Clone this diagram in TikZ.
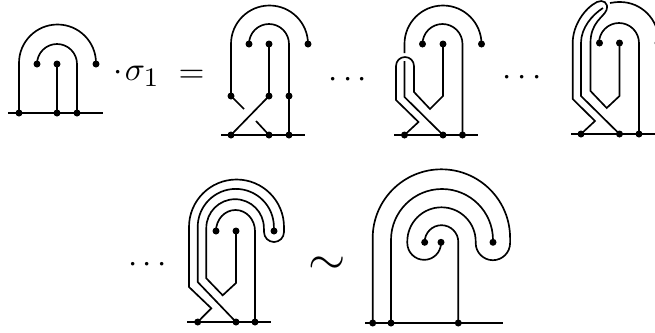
\documentclass[tikz,border=0pt]{standalone}
\usepackage{tikz}
\tikzset{
    % Marked points on the strands
    puncture/.style={circle, fill=black, inner sep=0pt, minimum size=2.1pt},
    % Strands of the curve diagram
    strand/.style={line width=0.5pt, line join=miter},
    % Horizontal boundary line
    base line/.style={line width=0.5pt}
}

\begin{document}
\begin{tikzpicture}[x=0.3pt, y=-0.3pt]
    \useasboundingbox (0,0) rectangle (655,332);

    % --- First diagram ---
    \node[puncture] (A1) at (19,113) {};
    \node[puncture] (A2) at (57,113) {};
    \node[puncture] (A3) at (77,113) {};
    \node[puncture] (A4) at (37,64) {};
    \node[puncture] (A5) at (57,64) {};
    \node[puncture] (A6) at (96,64) {};
    \coordinate (A7) at (8,113);
    \coordinate (A8) at (103,113);
    \draw[base line] (A7) -- (A8);
    \draw[strand] (A1.center) -- (19,63) arc[start angle=180, end angle=360, radius=38.5] -- (A6.center);
    \draw[strand] (A3.center) -- (77,64) arc[start angle=0, end angle=-180, radius=20] -- (A4.center);
    \draw[strand] (A2.center) -- (A5.center);

    % --- Labels, first row ---
    \node[anchor=base west, inner sep=0pt] (sigma) at (113,80) {$\cdot\mkern1mu\sigma_{\mbox{\footnotesize 1}}$};
    \node (equals) at (191.5,76) {$=$};
    \node (dots1) at (347.7,80) {$\cdots$};
    \node (dots2) at (522,77.7) {$\cdots$};

    % --- Second diagram ---
    \node[puncture] (B1) at (231,135) {};
    \node[puncture] (B2) at (269,135) {};
    \node[puncture] (B3) at (289,135) {};
    \node[puncture] (B4) at (231,96) {};
    \node[puncture] (B5) at (269,96) {};
    \node[puncture] (B6) at (289,96) {};
    \node[puncture] (B7) at (249,44) {};
    \node[puncture] (B8) at (269,44) {};
    \node[puncture] (B9) at (308,44) {};
    \coordinate (B10) at (221,135);
    \coordinate (B11) at (305,135);
    \coordinate (B12) at (244,109);
    \coordinate (B13) at (256,121);
    \draw[base line] (B10) -- (B11);
    \draw[strand] (B4.center) -- (231,44) arc[start angle=180, end angle=360, radius=38.5] -- (B9.center);
    \draw[strand] (B3.center) -- (289,44) arc[start angle=0, end angle=-180, radius=20] -- (B7.center);
    \draw[strand] (B8.center) -- (B5.center) -- (B1.center);
    \draw[strand] (B4.center) -- (B12);
    \draw[strand] (B13) -- (B2.center);

    % --- Third diagram ---
    \node[puncture] (C1) at (404.5,135) {};
    \node[puncture] (C2) at (443,135) {};
    \node[puncture] (C3) at (462.5,135) {};
    \node[puncture] (C4) at (422.5,44) {};
    \node[puncture] (C5) at (443,44) {};
    \node[puncture] (C6) at (481.5,44) {};
    \coordinate (C7) at (394,135);
    \coordinate (C8) at (478,135);
    \draw[base line] (C7) -- (C8);
    \draw[strand] (404.5,53) -- (404.5,44) arc[start angle=180, end angle=360, radius=38.5] -- (C6.center);
    \draw[strand] (C3.center) -- (462.5,44) arc[start angle=0, end angle=-180, radius=20] -- (C4.center);
    \draw[strand] (C5.center) -- (443,96) -- (430,109) -- (414,92) -- (414,66)
        arc[start angle=0, end angle=-180, radius=9] -- (396,100) -- (418.5,122) -- (C1.center);
    \draw[strand] (404.5,61) -- (404.5,97) -- (C2.center);

    % --- Fourth diagram (runs off the right edge) ---
    \node[puncture] (D1) at (581,134) {};
    \node[puncture] (D2) at (619.5,134) {};
    \node[puncture] (D3) at (639,134) {};
    \node[puncture] (D4) at (599.5,43) {};
    \node[puncture] (D5) at (619.5,43) {};
    \node[puncture] (D6) at (658,43) {};
    \coordinate (D7) at (571,134);
    \coordinate (D8) at (660,134);
    \draw[base line] (D7) -- (D8);
    \draw[strand] (610,3) .. controls (613,2.5) and (616,2) .. (620,2) arc[start angle=270, end angle=360, radius=38.5];
    \draw[strand] (D3.center) -- (639,43) arc[start angle=0, end angle=-180, radius=20] -- (D4.center);
    \draw[strand] (D5.center) -- (619.5,96) -- (606.7,108) -- (590.5,91) -- (590.5,43)
        .. controls (590.5,22) and (604,17) .. (606.5,10)
        .. controls (609,3) and (603,-1) .. (597,2)
        .. controls (585,8) and (572.7,25) .. (572.7,43) -- (572.7,99) -- (595,121) -- (D1.center);
    \draw[strand] (D2.center) -- (581,96) -- (581,43) .. controls (581,28) and (592,15) .. (603,8);

    % --- Labels, second row ---
    \node (dots3) at (147.5,265) {$\cdots$};
    \node[font=\Large] (sim) at (327.5,266) {$\sim$};

    % --- Fifth diagram ---
    \node[puncture] (E1) at (197.7,322) {};
    \node[puncture] (E2) at (236,322) {};
    \node[puncture] (E3) at (255,322) {};
    \node[puncture] (E4) at (216,231) {};
    \node[puncture] (E5) at (236,231) {};
    \node[puncture] (E6) at (274,231) {};
    \coordinate (E7) at (187,322);
    \coordinate (E8) at (271,322);
    \draw[base line] (E7) -- (E8);
    \draw[strand] (E3.center) -- (255,231) arc[start angle=0, end angle=-180, x radius=19.5, y radius=21] -- (E4.center);
    \draw[strand] (E5.center) -- (236,283) -- (222.7,295.3) -- (206.3,278.3) -- (206.3,228)
        arc[start angle=180, end angle=360, radius=28.8] -- (264,232)
        arc[start angle=180, end angle=0, radius=10] -- (284,227)
        arc[start angle=0, end angle=-180, radius=47.5] -- (189,287) -- (211.3,308.3) -- (E1.center);
    \draw[strand] (E2.center) -- (197.7,282) -- (197.7,227)
        arc[start angle=180, end angle=360, radius=38.1] -- (E6.center);

    % --- Sixth diagram ---
    \node[puncture] (F1) at (372.7,323) {};
    \node[puncture] (F2) at (391,323) {};
    \node[puncture] (F3) at (458.3,323) {};
    \node[puncture] (F4) at (424.7,242.3) {};
    \node[puncture] (F5) at (441,242.3) {};
    \node[puncture] (F6) at (493,242.3) {};
    \coordinate (F7) at (365,323);
    \coordinate (F8) at (503,323);
    \draw[base line] (F7) -- (F8);
    \draw[strand] (F1.center) -- (372.7,238) arc[start angle=180, end angle=360, radius=68.7] -- (510.1,243)
        arc[start angle=0, end angle=180, radius=17.2] -- (475.7,241.5)
        arc[start angle=0, end angle=-180, radius=34.2] -- (407.3,243)
        arc[start angle=180, end angle=0, radius=16.85] -- (F5.center);
    \draw[strand] (F2.center) -- (391,240) arc[start angle=180, end angle=360, radius=51] -- (F6.center);
    \draw[strand] (F3.center) -- (458.3,242) arc[start angle=0, end angle=-180, radius=16.8] -- (F4.center);
\end{tikzpicture}
\end{document}
